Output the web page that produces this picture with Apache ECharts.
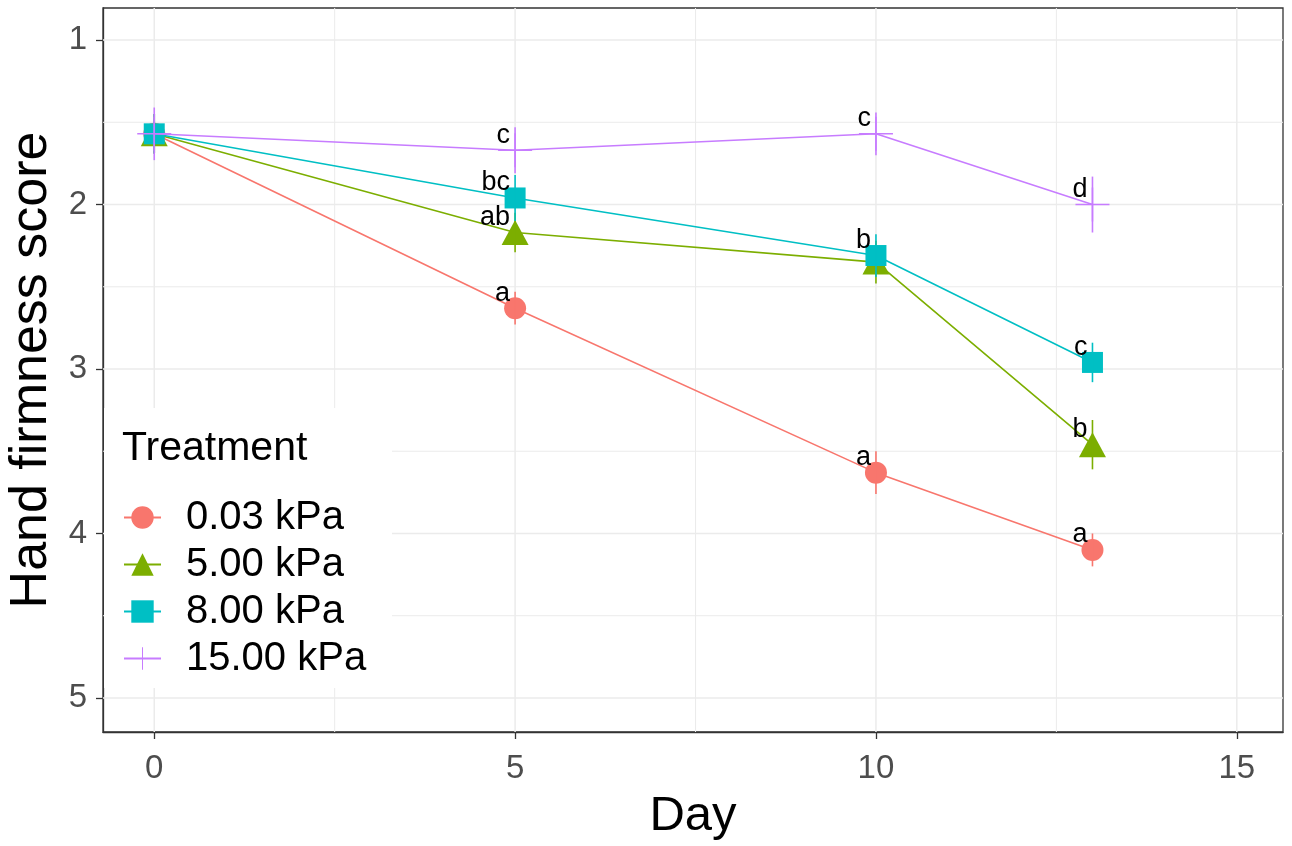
<!DOCTYPE html>
<html>
<head>
<meta charset="utf-8">
<title>Hand firmness score by day</title>
<script src="https://cdn.jsdelivr.net/npm/echarts@6/dist/echarts.min.js"></script>
<style>
  html, body { margin: 0; padding: 0; background: #ffffff; }
  #chart { width: 1292px; height: 846px; }
</style>
</head>
<body>
<div id="chart"></div>
<script>
// ---- data ----
const days = [0, 5, 10, 13];
const treatments = ['0.03 kPa', '5.00 kPa', '8.00 kPa', '15.00 kPa'];

const score003 = [1.57, 2.63, 3.63, 4.10];
const score500 = [1.57, 2.17, 2.35, 3.46];
const score800 = [1.57, 1.96, 2.31, 2.96];
const score1500 = [1.57, 1.67, 1.57, 2.00];

const err003 = [0.12, 0.10, 0.13, 0.10];
const err500 = [0.12, 0.12, 0.13, 0.15];
const err800 = [0.12, 0.14, 0.13, 0.12];
const err1500 = [0.16, 0.14, 0.13, 0.17];

const letters003 = ['', 'a', 'a', 'a'];
const letters500 = ['', 'ab', '', 'b'];
const letters800 = ['', 'bc', 'b', 'c'];
const letters1500 = ['', 'c', 'c', 'd'];

const xTicks = [0, 5, 10, 15];
const xMinor = [2.5, 7.5, 12.5];
const yTicks = [1, 2, 3, 4, 5];
const yMinor = [1.5, 2.5, 3.5, 4.5];

// ---- styling ----
const FONT = '"Liberation Sans", Arial, sans-serif';
const colors = ['#F8766D', '#7CAE00', '#00BFC4', '#C77CFF'];
const crossPath = 'path://M17.2,0h1.6v17.2h17.2v1.6h-17.2v17.2h-1.6v-17.2h-17.2v-1.6h17.2z';
const symbols = ['circle', 'triangle', 'rect', crossPath];
const symbolSizes = [22, [27, 25], 21, 34];

const scores = [score003, score500, score800, score1500];
const errors = [err003, err500, err800, err1500];
const letters = [letters003, letters500, letters800, letters1500];

const X_MIN = -0.71, X_MAX = 15.64;
const Y_MIN = 0.805, Y_MAX = 5.207;

// grid lines drawn across the panel from axis values
function gridLineSeries(values, dir, width) {
  return {
    type: 'custom',
    silent: true,
    z: 1,
    data: values.map(v => dir === 'h' ? [0, v] : [v, 1]),
    renderItem: function (params, api) {
      const cs = params.coordSys;
      const p = api.coord([api.value(0), api.value(1)]);
      const shape = dir === 'h'
        ? { x1: cs.x, y1: p[1], x2: cs.x + cs.width, y2: p[1] }
        : { x1: p[0], y1: cs.y, x2: p[0], y2: cs.y + cs.height };
      return { type: 'line', shape: shape, style: { stroke: '#EBEBEB', lineWidth: width } };
    }
  };
}

const series = [
  gridLineSeries(yMinor, 'h', 1),
  gridLineSeries(xMinor, 'v', 1),
  gridLineSeries(yTicks, 'h', 1.5),
  gridLineSeries(xTicks, 'v', 1.5)
];

treatments.forEach(function (name, i) {
  series.push({
    name: name,
    type: 'line',
    z: 3 + i * 2,
    data: days.map((d, k) => [d, scores[i][k]]),
    symbol: symbols[i],
    symbolSize: symbolSizes[i],
    symbolKeepAspect: true,
    showSymbol: true,
    lineStyle: { color: colors[i], width: 1.6 },
    itemStyle: { color: colors[i] },
    emphasis: { disabled: true },
    clip: false
  });
  series.push({
    name: name + ' error',
    type: 'custom',
    z: 4 + i * 2,
    silent: true,
    data: days.map((d, k) => [d, scores[i][k], errors[i][k]]),
    encode: { x: 0, y: 1 },
    renderItem: function (params, api) {
      const x = api.value(0), y = api.value(1), e = api.value(2);
      const a = api.coord([x, y - e]);
      const b = api.coord([x, y + e]);
      return {
        type: 'line',
        shape: { x1: a[0], y1: a[1], x2: b[0], y2: b[1] },
        style: { stroke: colors[i], lineWidth: 1.6 }
      };
    }
  });
});

// significance letters next to each mean
const letterData = [];
const letterText = [];
treatments.forEach(function (name, i) {
  days.forEach(function (d, k) {
    if (letters[i][k]) {
      letterData.push([d, scores[i][k]]);
      letterText.push(letters[i][k]);
    }
  });
});
series.push({
  type: 'custom',
  z: 20,
  silent: true,
  data: letterData,
  encode: { x: 0, y: 1 },
  renderItem: function (params, api) {
    const p = api.coord([api.value(0), api.value(1)]);
    return {
      type: 'text',
      x: p[0] - 5,
      y: p[1] - 15,
      style: {
        text: letterText[params.dataIndex],
        textAlign: 'right',
        textVerticalAlign: 'middle',
        fontSize: 27,
        fontFamily: FONT,
        fill: '#000000'
      }
    };
  }
});

const axisCommon = {
  type: 'value',
  splitLine: { show: false },
  axisLine: { show: true, onZero: false, lineStyle: { color: '#333333', width: 1.3 } },
  axisTick: { show: true, length: 7, lineStyle: { color: '#333333', width: 1.3 } }
};

const option = {
  animation: false,
  backgroundColor: '#ffffff',
  grid: {
    left: 103, right: 9, top: 8, bottom: 114,
    outerBoundsMode: 'none',
    containLabel: false,
    show: true, borderColor: '#333333', borderWidth: 1.3, backgroundColor: 'transparent'
  },
  xAxis: Object.assign({}, axisCommon, {
    min: X_MIN, max: X_MAX,
    name: 'Day',
    nameLocation: 'middle',
    nameGap: 60,
    nameTextStyle: { fontSize: 49, fontFamily: FONT, color: '#000000' },
    axisTick: Object.assign({}, axisCommon.axisTick, { customValues: xTicks }),
    axisLabel: { customValues: xTicks, fontSize: 33, fontFamily: FONT, color: '#4D4D4D', margin: 20 }
  }),
  yAxis: Object.assign({}, axisCommon, {
    min: Y_MIN, max: Y_MAX,
    inverse: true,
    name: 'Hand firmness score',
    nameLocation: 'middle',
    nameGap: 34,
    nameTextStyle: { fontSize: 52, fontFamily: FONT, color: '#000000' },
    axisTick: Object.assign({}, axisCommon.axisTick, { customValues: yTicks }),
    axisLabel: { customValues: yTicks, fontSize: 33, fontFamily: FONT, color: '#4D4D4D', margin: 16 }
  }),
  legend: {
    data: treatments,
    orient: 'vertical',
    left: 118,
    top: 489,
    itemWidth: 37,
    itemHeight: 28,
    itemGap: 0,
    selectedMode: false,
    textStyle: { fontSize: 40, fontFamily: FONT, color: '#000000', lineHeight: 47, padding: [0, 0, 0, 20] },
    z: 10
  },
  graphic: [
    {
      type: 'rect',
      z: 2,
      silent: true,
      shape: { x: 104, y: 408, width: 288, height: 280 },
      style: { fill: '#ffffff' }
    },
    {
      type: 'text',
      z: 11,
      left: 122,
      top: 428,
      style: { text: 'Treatment', fontSize: 41, fontFamily: FONT, fill: '#000000' }
    }
  ],
  series: series
};

const chart = echarts.init(document.getElementById('chart'), null, { renderer: 'canvas' });
chart.setOption(option);
</script>
</body>
</html>
